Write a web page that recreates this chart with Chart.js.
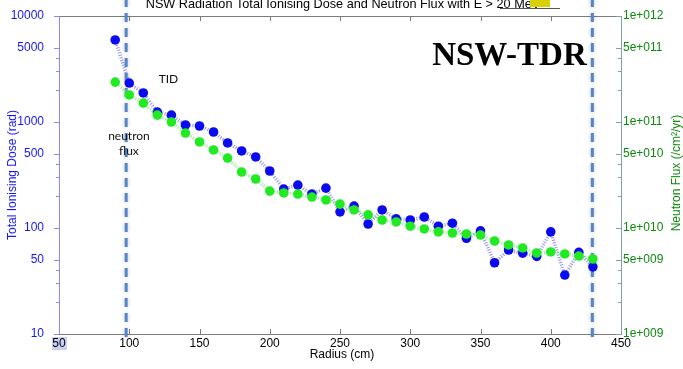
<!DOCTYPE html>
<html><head><meta charset="utf-8">
<script src="https://cdn.jsdelivr.net/npm/chart.js@4.4.0/dist/chart.umd.min.js"></script>
<style>html,body{margin:0;padding:0;background:#fff;overflow:hidden}#wrap{width:683px;height:369px}</style>
</head><body><div id="wrap"><canvas id="c" width="683" height="369"></canvas></div>
<script>
const chartTitle = 'NSW Radiation Total Ionising Dose and Neutron Flux with E > 20 MeV';
const radius = [90,100,110,120,130,140,150,160,170,180,190,200,210,220,230,240,250,260,270,280,290,300,310,320,330,340,350,360,370,380,390,400,410,420,430];
const tidValues = [5940,2330,1880,1240,1160,937,917,805,634,533,468,345,233,254,209,238,142,161,109,148,122,119,127,104,111,80,94,47,62,58,54,92,36,59,43];
const fluxValues = [2.38e11,1.80e11,1.51e11,1.16e11,1.0e11,7.87e10,6.48e10,5.45e10,4.57e10,3.37e10,2.90e10,2.23e10,2.14e10,2.09e10,1.96e10,1.84e10,1.68e10,1.48e10,1.33e10,1.19e10,1.14e10,1.04e10,9.8e9,9.2e9,8.97e9,8.78e9,8.59e9,7.54e9,6.92e9,6.48e9,5.81e9,5.94e9,5.69e9,5.44e9,5.10e9];
const xTickValues = [50,100,150,200,250,300,350,400,450];
const xTickLabels = ['50','100','150','200','250','300','350','400','450'];
const leftTickValues = [10,50,100,500,1000,5000,10000];
const leftTickLabels = ['10','50','100','500','1000','5000','10000'];
const leftMinorTicks = [20,30,40,200,300,400,2000,3000,4000];
const rightTickValues = [1e9,5e9,1e10,5e10,1e11,5e11,1e12];
const rightTickLabels = ['1e+009','5e+009','1e+010','5e+010','1e+011','5e+011','1e+012'];
const rightMinorTicks = [2e9,3e9,4e9,2e10,3e10,4e10,2e11,3e11,4e11];
const markerLines = [97.8, 429.6];
const textNotes = [
  {text:'TID', x:127.9, y:2545},
  {text:'neutron', x:99.8, y:738},
  {text:'flux', x:99.8, y:532}
];
const stamp = {text:'NSW-TDR', x:370.6, y:4195};

const BLUE_TXT = '#1616f5', GREEN_TXT = '#0e8a0e';
const SANS = '"Liberation Sans", Arial, sans-serif';

const decor = {
  id: 'decor',
  beforeDraw(chart) {
    const ctx = chart.ctx, xs = chart.scales.x, a = chart.chartArea;
    ctx.save();
    ctx.fillStyle = '#c9d0f2';
    const px = xs.getPixelForValue(xTickValues[0]);
    ctx.fillRect(px - 7, a.bottom + 3, 15, 13);
    ctx.restore();
  },
  beforeDatasetsDraw(chart) {
    const ctx = chart.ctx, a = chart.chartArea;
    const xs = chart.scales.x, ys = chart.scales.y, y2 = chart.scales.y2;
    ctx.save();
    ctx.lineWidth = 1;
    ctx.strokeStyle = '#7c7c7c';
    ctx.beginPath(); ctx.moveTo(a.left, a.top + 0.5); ctx.lineTo(a.right, a.top + 0.5); ctx.stroke();
    ctx.beginPath(); ctx.moveTo(a.left, a.bottom + 0.5); ctx.lineTo(a.right, a.bottom + 0.5); ctx.stroke();
    xTickValues.forEach(v => {
      const p = Math.round(xs.getPixelForValue(v)) + 0.5;
      ctx.beginPath(); ctx.moveTo(p, a.bottom); ctx.lineTo(p, a.bottom - 5); ctx.stroke();
      ctx.beginPath(); ctx.moveTo(p, a.top); ctx.lineTo(p, a.top + 5); ctx.stroke();
    });
    ctx.strokeStyle = '#8c8ce6';
    ctx.beginPath(); ctx.moveTo(a.left + 0.5, a.top); ctx.lineTo(a.left + 0.5, a.bottom + 1); ctx.stroke();
    leftTickValues.forEach(v => { const p = Math.round(ys.getPixelForValue(v)) + 0.5; ctx.beginPath(); ctx.moveTo(a.left - 5, p); ctx.lineTo(a.left, p); ctx.stroke(); });
    leftMinorTicks.forEach(v => { const p = Math.round(ys.getPixelForValue(v)) + 0.5; ctx.beginPath(); ctx.moveTo(a.left - 3, p); ctx.lineTo(a.left, p); ctx.stroke(); });
    ctx.strokeStyle = '#7fa3a3';
    ctx.beginPath(); ctx.moveTo(a.right + 0.5, a.top); ctx.lineTo(a.right + 0.5, a.bottom + 1); ctx.stroke();
    rightTickValues.forEach(v => { const p = Math.round(y2.getPixelForValue(v)) + 0.5; ctx.beginPath(); ctx.moveTo(a.right - 5, p); ctx.lineTo(a.right + 1, p); ctx.stroke(); });
    rightMinorTicks.forEach(v => { const p = Math.round(y2.getPixelForValue(v)) + 0.5; ctx.beginPath(); ctx.moveTo(a.right - 3, p); ctx.lineTo(a.right + 1, p); ctx.stroke(); });
    ctx.strokeStyle = '#5585c8';
    ctx.lineWidth = 3;
    ctx.setLineDash([9, 6]);
    ctx.shadowColor = 'rgba(0,0,0,0.25)';
    ctx.shadowBlur = 4;
    markerLines.forEach(v => {
      const p = xs.getPixelForValue(v);
      ctx.beginPath(); ctx.moveTo(p, -2); ctx.lineTo(p, a.bottom + 9); ctx.stroke();
    });
    ctx.restore();
  },
  afterDraw(chart) {
    const ctx = chart.ctx, a = chart.chartArea;
    const xs = chart.scales.x, ys = chart.scales.y;
    ctx.save();
    ctx.font = '12.7px ' + SANS;
    ctx.fillStyle = '#000';
    ctx.textAlign = 'center';
    ctx.textBaseline = 'alphabetic';
    ctx.fillText(chartTitle, (a.left + a.right) / 2 + 3, 8);
    ctx.fillStyle = '#d8d000';
    ctx.fillRect(530, -2, 20, 9);
    ctx.strokeStyle = '#555';
    ctx.lineWidth = 1;
    ctx.beginPath(); ctx.moveTo(500, 8.5); ctx.lineTo(560, 8.5); ctx.stroke();
    ctx.font = '12px ' + SANS;
    ctx.fillStyle = '#000';
    ctx.textBaseline = 'middle';
    ctx.fillText('Radius (cm)', (a.left + a.right) / 2 + 2, a.bottom + 21);
    ctx.save();
    ctx.translate(13, (a.top + a.bottom) / 2);
    ctx.rotate(-Math.PI / 2);
    ctx.fillStyle = BLUE_TXT;
    ctx.fillText('Total Ionising Dose (rad)', 0, 0);
    ctx.restore();
    ctx.save();
    ctx.translate(677, (a.top + a.bottom) / 2 - 2);
    ctx.rotate(-Math.PI / 2);
    ctx.fillStyle = GREEN_TXT;
    ctx.fillText('Neutron Flux (/cm\u00B2/yr)', 0, 0);
    ctx.restore();
    ctx.fillStyle = '#111';
    ctx.font = '12px Lato, "Open Sans", sans-serif';
    textNotes.forEach(n => ctx.fillText(n.text, xs.getPixelForValue(n.x), ys.getPixelForValue(n.y)));
    ctx.font = 'bold 33px "Liberation Serif", "Times New Roman", serif';
    ctx.fillStyle = '#000';
    ctx.fillText(stamp.text, xs.getPixelForValue(stamp.x), ys.getPixelForValue(stamp.y));
    ctx.restore();
  }
};

const zeroVPad = s => { s.paddingTop = 0; s.paddingBottom = 0; };

new Chart(document.getElementById('c'), {
  type: 'line',
  data: {
    datasets: [
      {
        label: 'neutron flux',
        data: radius.map((r, i) => ({x: r, y: fluxValues[i]})),
        yAxisID: 'y2',
        order: 0,
        borderColor: 'rgba(140,232,140,0.85)',
        borderWidth: 3.5,
        borderDash: [1, 1.6],
        pointRadius: 4.8,
        pointBackgroundColor: '#22ea22',
        pointBorderColor: '#22ea22',
        pointBorderWidth: 0,
        tension: 0
      },
      {
        label: 'TID',
        data: radius.map((r, i) => ({x: r, y: tidValues[i]})),
        yAxisID: 'y',
        order: 1,
        borderColor: 'rgba(110,110,225,0.75)',
        borderWidth: 3.5,
        borderDash: [1, 1.6],
        pointRadius: 4.8,
        pointBackgroundColor: '#0a0aee',
        pointBorderColor: '#0a0aee',
        pointBorderWidth: 0,
        tension: 0
      }
    ]
  },
  options: {
    responsive: false,
    animation: false,
    devicePixelRatio: 1,
    layout: {padding: {top: 16, left: 0, right: 0, bottom: 0}},
    plugins: {legend: {display: false}, tooltip: {enabled: false}, title: {display: false}},
    scales: {
      x: {
        type: 'linear', position: 'bottom', min: 50, max: 450,
        grid: {display: false, drawTicks: false}, border: {display: false},
        afterBuildTicks: s => { s.ticks = xTickValues.map(v => ({value: v})); },
        afterFit: s => { s.height = 35; s.paddingLeft = 0; s.paddingRight = 0; },
        ticks: {autoSkip: false, maxRotation: 0, padding: 2, color: '#000', font: {size: 12, family: SANS},
          callback: (v, i) => xTickLabels[i]}
      },
      y: {
        type: 'logarithmic', position: 'left', min: 10, max: 10000,
        grid: {display: false, drawTicks: false}, border: {display: false},
        afterBuildTicks: s => { s.ticks = leftTickValues.map(v => ({value: v})); },
        afterFit: s => { s.width = 59; zeroVPad(s); },
        ticks: {autoSkip: false, padding: 15, color: BLUE_TXT, font: {size: 12, family: SANS},
          callback: (v, i) => leftTickLabels[i]}
      },
      y2: {
        type: 'logarithmic', position: 'right', min: 1e9, max: 1e12,
        grid: {display: false, drawTicks: false}, border: {display: false},
        afterBuildTicks: s => { s.ticks = rightTickValues.map(v => ({value: v})); },
        afterFit: s => { s.width = 62; zeroVPad(s); },
        ticks: {autoSkip: false, padding: 2, color: GREEN_TXT, font: {size: 12, family: SANS},
          callback: (v, i) => rightTickLabels[i]}
      }
    }
  },
  plugins: [decor]
});
</script>
</body></html>
